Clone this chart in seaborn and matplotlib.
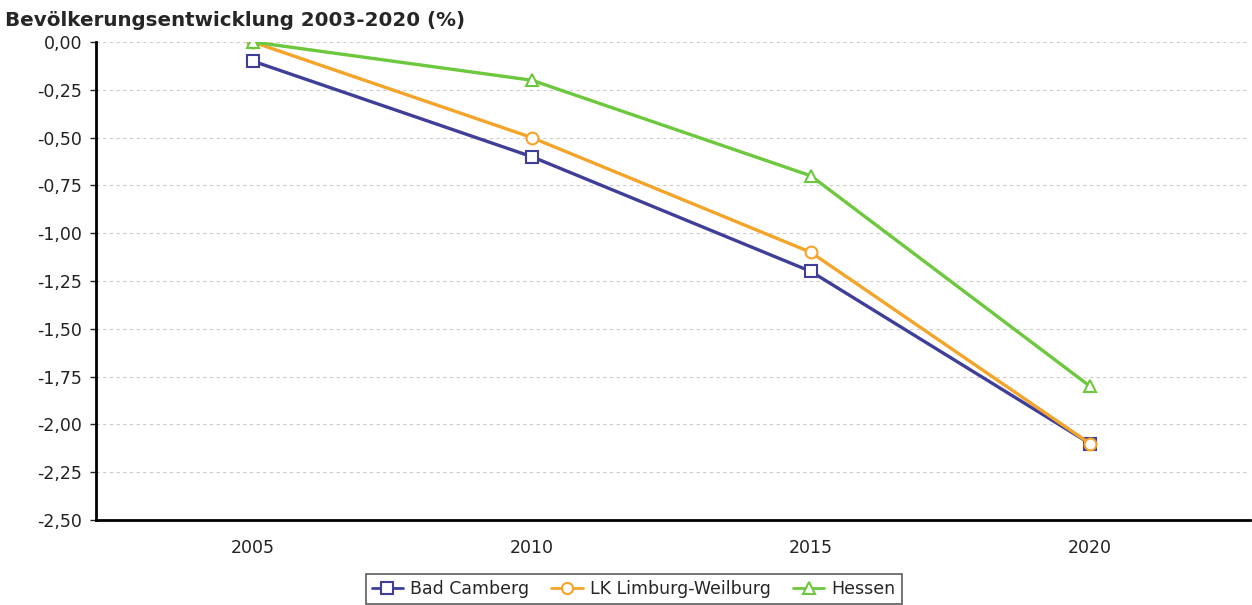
import matplotlib
matplotlib.use("Agg")
import matplotlib.pyplot as plt
import seaborn as sns
import pandas as pd
from matplotlib.ticker import FuncFormatter, MultipleLocator

years = [2005, 2010, 2015, 2020]
bad_camberg = [-0.1, -0.6, -1.2, -2.1]
lk_limburg = [0.0, -0.5, -1.1, -2.1]
hessen = [0.0, -0.2, -0.7, -1.8]

series = {
    "Bad Camberg": (bad_camberg, "#3f3f9a", "s"),
    "LK Limburg-Weilburg": (lk_limburg, "#f5a42a", "o"),
    "Hessen": (hessen, "#6cc83c", "^"),
}

sns.set_style("white")
plt.rcParams["font.family"] = ["DejaVu Sans"]

fig = plt.figure(figsize=(12.52, 6.05), dpi=100)
ax = fig.add_axes([0.0767, 0.1405, 0.9217, 0.7901])

for name, (vals, color, marker) in series.items():
    df = pd.DataFrame({"Jahr": years, "Wert": vals})
    sns.lineplot(data=df, x="Jahr", y="Wert", ax=ax, color=color, linewidth=2.4,
                 marker=marker, markersize=8.5, markerfacecolor="white",
                 markeredgecolor=color, markeredgewidth=1.5, label=name)

ax.set_xlim(2002.19, 2022.87)
ax.set_ylim(-2.5, 0.0)
ax.set_xticks(years)
ax.yaxis.set_major_locator(MultipleLocator(0.25))
ax.yaxis.set_major_formatter(FuncFormatter(lambda v, p: f"{v:.2f}".replace(".", ",").replace("-0,00", "0,00")))
ax.set_xlabel("")
ax.set_ylabel("")
ax.grid(axis="y", linestyle=(0, (3, 3)), color="#cccccc", linewidth=0.8)
ax.set_axisbelow(True)
for s in ["top", "right"]:
    ax.spines[s].set_visible(False)
for s in ["left", "bottom"]:
    ax.spines[s].set_color("black")
    ax.spines[s].set_linewidth(2)
ax.tick_params(axis="y", length=4, width=1, labelsize=12.5, pad=6, left=True)
ax.tick_params(axis="x", length=0, labelsize=12.5, pad=14)
for lbl in ax.get_xticklabels() + ax.get_yticklabels():
    lbl.set_color("#222222")

fig.text(0.004, 0.966, "Bevölkerungsentwicklung 2003-2020 (%)", fontsize=14.3,
         fontweight="bold", ha="left", va="center")

leg = ax.legend(loc="center", bbox_to_anchor=(0.506, 0.026), bbox_transform=fig.transFigure,
                ncol=3, frameon=True, fancybox=False, fontsize=12.5, handlelength=1.8,
                handletextpad=0.4, columnspacing=1.3, borderpad=0.35)
leg.get_frame().set_edgecolor("#333333")
leg.get_frame().set_linewidth(1.2)
for h in leg.get_lines():
    h.set_linewidth(2)
    h.set_markersize(8)

fig.savefig("out.png", dpi=100)
